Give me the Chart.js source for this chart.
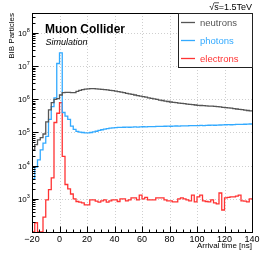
<!DOCTYPE html>
<html>
<head>
<meta charset="utf-8">
<script src="https://cdn.jsdelivr.net/npm/chart.js@4.4.1/dist/chart.umd.min.js"></script>
<style>
  html, body { margin: 0; padding: 0; background: #fff; }
</style>
</head>
<body>
<canvas id="bib" width="266" height="258"></canvas>
<script>
// bin edges in ns (2 ns bins), 81 edges -> 80 bins
const binEdges = [-20, -18, -16, -14, -12, -10, -8, -6, -4, -2,
  0, 2, 4, 6, 8, 10, 12, 14, 16, 18,
  20, 22, 24, 26, 28, 30, 32, 34, 36, 38,
  40, 42, 44, 46, 48, 50, 52, 54, 56, 58,
  60, 62, 64, 66, 68, 70, 72, 74, 76, 78,
  80, 82, 84, 86, 88, 90, 92, 94, 96, 98,
  100, 102, 104, 106, 108, 110, 112, 114, 116, 118,
  120, 122, 124, 126, 128, 130, 132, 134, 136, 138, 140];

const neutrons = [3.0e4, 4.3e4, 6.0e4, 7.0e4, 9.0e4, 2.1e5, 4.8e5, 8.0e5, 1.0e6, 1.05e6,
  1.35e6, 1.6e6, 1.62e6, 1.62e6, 1.58e6, 1.6e6, 1.74e6, 1.86e6, 1.95e6, 2.02e6,
  2.06e6, 2.09e6, 2.09e6, 2.07e6, 2.04e6, 2.0e6, 1.97e6, 1.92e6, 1.86e6, 1.82e6,
  1.77e6, 1.70e6, 1.65e6, 1.58e6, 1.51e6, 1.46e6, 1.40e6, 1.35e6, 1.30e6, 1.25e6,
  1.20e6, 1.16e6, 1.11e6, 1.07e6, 1.03e6, 9.9e5, 9.5e5, 9.2e5, 8.8e5, 8.6e5,
  8.3e5, 8.1e5, 7.9e5, 7.7e5, 7.55e5, 7.4e5, 7.2e5, 7.05e5, 6.9e5, 6.75e5,
  6.6e5, 6.5e5, 6.45e5, 6.35e5, 6.25e5, 6.2e5, 6.1e5, 6.0e5, 5.9e5, 5.75e5,
  5.6e5, 5.5e5, 5.4e5, 5.25e5, 5.1e5, 5.0e5, 4.9e5, 4.75e5, 4.6e5, 4.5e5];

const photons = [4.0e3, 9.0e3, 1.5e4, 3.0e4, 4.8e4, 7.6e4, 2.5e5, 6.0e5, 1.1e6, 1.2e7,
  2.5e7, 4.0e5, 3.1e5, 2.5e5, 1.55e5, 1.24e5, 1.08e5, 1.03e5, 1.0e5, 9.8e4,
  9.8e4, 1.0e5, 1.04e5, 1.09e5, 1.15e5, 1.21e5, 1.26e5, 1.31e5, 1.35e5, 1.38e5,
  1.40e5, 1.42e5, 1.43e5, 1.44e5, 1.45e5, 1.44e5, 1.46e5, 1.47e5, 1.46e5, 1.48e5,
  1.49e5, 1.48e5, 1.50e5, 1.51e5, 1.50e5, 1.52e5, 1.53e5, 1.52e5, 1.54e5, 1.55e5,
  1.54e5, 1.56e5, 1.57e5, 1.56e5, 1.58e5, 1.59e5, 1.58e5, 1.60e5, 1.61e5, 1.60e5,
  1.62e5, 1.63e5, 1.62e5, 1.64e5, 1.65e5, 1.66e5, 1.65e5, 1.67e5, 1.68e5, 1.70e5,
  1.71e5, 1.72e5, 1.71e5, 1.73e5, 1.75e5, 1.76e5, 1.75e5, 1.77e5, 1.78e5, 1.80e5];

const electrons = [0, 190, 0, 0, 280, 930, 1900, 4300, 2.0e5, 3.8e5,
  8.0e5, 1.9e4, 2700, 2000, 1400, 1000, 830, 800, 750, 660,
  660, 930, 930, 850, 800, 870, 930, 800, 870, 930,
  930, 830, 1000, 1000, 870, 930, 1070, 1070, 930, 1300,
  1000, 1100, 930, 930, 930, 1070, 1070, 1070, 930, 870,
  870, 810, 810, 1000, 1070, 1000, 930, 870, 1300, 810,
  1150, 1300, 870, 830, 810, 930, 750, 700, 1500, 460,
  1070, 1100, 1150, 1150, 1200, 1300, 870, 850, 810, 1000];

const seriesNames = ['neutrons', 'photons', 'electrons'];
const seriesColors = ['#555555', '#33aaff', '#ff3333'];

const xTicks = [-20, 0, 20, 40, 60, 80, 100, 120, 140];
const xTickLabels = ['\u221220', '0', '20', '40', '60', '80', '100', '120', '140'];
const yDecades = [3, 4, 5, 6, 7, 8];

const xMin = -20, xMax = 140;
const yMin = 100, yMax = 4e8;

const FONT = '"Liberation Sans", Arial, Helvetica, sans-serif';

// histogram as step line: each bin value starts at its lower edge, last value repeated at the upper edge
function histPoints(vals) {
  const pts = vals.map((v, i) => ({ x: binEdges[i], y: v > 0 ? v : yMin }));
  pts.push({ x: binEdges[vals.length], y: pts[pts.length - 1].y });
  return pts;
}

const rootStyle = {
  id: 'rootStyle',
  beforeDatasetsDraw(chart) {
    const { ctx, chartArea: a, scales: { x, y } } = chart;
    ctx.save();
    ctx.strokeStyle = '#cfcfcf';
    ctx.lineWidth = 1;
    ctx.setLineDash([1, 2]);
    xTicks.forEach((t) => {
      if (t <= xMin || t >= xMax) return;
      const px = Math.round(x.getPixelForValue(t)) + 0.5;
      ctx.beginPath(); ctx.moveTo(px, a.top); ctx.lineTo(px, a.bottom); ctx.stroke();
    });
    yDecades.forEach((d) => {
      const py = Math.round(y.getPixelForValue(Math.pow(10, d))) + 0.5;
      ctx.beginPath(); ctx.moveTo(a.left, py); ctx.lineTo(a.right, py); ctx.stroke();
    });
    ctx.restore();
  },
  afterDatasetsDraw(chart) {
    const { ctx, chartArea: a, scales: { x, y } } = chart;
    ctx.save();
    ctx.setLineDash([]);
    ctx.strokeStyle = '#000';
    ctx.lineWidth = 1;

    // frame
    const L = a.left + 0.5, R = a.right + 0.5, T = a.top + 0.5, B = a.bottom + 0.5;
    ctx.strokeRect(L, T, R - L, B - T);

    // x ticks (inside, ROOT style)
    ctx.beginPath();
    for (let t = xMin; t <= xMax; t += 5) {
      const px = Math.round(x.getPixelForValue(t)) + 0.5;
      const len = t % 20 === 0 ? 6 : 3;
      ctx.moveTo(px, B); ctx.lineTo(px, B - len);
    }
    // y ticks
    for (let d = 2; d <= 8; d++) {
      for (let k = 1; k <= 9; k++) {
        const v = k * Math.pow(10, d);
        if (v < yMin || v > yMax) continue;
        const py = Math.round(y.getPixelForValue(v)) + 0.5;
        const len = k === 1 ? 6 : 3;
        ctx.moveTo(L, py); ctx.lineTo(L + len, py);
      }
    }
    ctx.stroke();

    // x tick labels
    ctx.fillStyle = '#000';
    ctx.font = '9px ' + FONT;
    ctx.textAlign = 'center';
    ctx.textBaseline = 'alphabetic';
    xTicks.forEach((t, i) => {
      ctx.fillText(xTickLabels[i], x.getPixelForValue(t), 241.5);
    });

    // y tick labels 10^n
    yDecades.forEach((d) => {
      const py = y.getPixelForValue(Math.pow(10, d));
      ctx.font = '8px ' + FONT;
      ctx.textAlign = 'right';
      ctx.textBaseline = 'middle';
      ctx.fillText('10', 26.8, py + 0.8);
      ctx.font = '5.5px ' + FONT;
      ctx.textAlign = 'left';
      ctx.textBaseline = 'alphabetic';
      ctx.fillText(String(d), 26.8, py - 0.8);
    });

    // axis titles
    ctx.font = '8px ' + FONT;
    ctx.textAlign = 'right';
    ctx.textBaseline = 'alphabetic';
    ctx.fillText('Arrival time [ns]', a.right, 247.5);
    ctx.save();
    ctx.translate(13.8, a.top);
    ctx.rotate(-Math.PI / 2);
    ctx.fillText('BIB Particles', 0, 0);
    ctx.restore();

    // labels
    ctx.textAlign = 'left';
    ctx.font = 'bold 12px ' + FONT;
    ctx.fillText('Muon Collider', 45, 33);
    ctx.font = 'italic 9px ' + FONT;
    ctx.fillText('Simulation', 45.5, 44.5);

    // sqrt(s) label
    ctx.font = '9px ' + FONT;
    ctx.textAlign = 'right';
    const rest = 's=1.5TeV';
    const restW = ctx.measureText(rest).width;
    ctx.fillText(rest, a.right, 9.5);
    const sW = ctx.measureText('s').width;
    const sx = a.right - restW;
    ctx.fillText('\u221A', sx, 9.5);
    ctx.beginPath();
    ctx.lineWidth = 0.7;
    ctx.moveTo(sx - 0.3, 2.8); ctx.lineTo(sx + sW + 0.3, 2.8);
    ctx.stroke();

    // legend
    ctx.lineWidth = 1;
    const lx0 = 178.5, ly0 = T, lx1 = R, ly1 = 67.5;
    ctx.fillStyle = '#fff';
    ctx.fillRect(lx0, ly0, lx1 - lx0, ly1 - ly0);
    ctx.strokeStyle = '#222';
    ctx.strokeRect(lx0, ly0, lx1 - lx0, ly1 - ly0);
    const rows = [22.5, 40.5, 58.5];
    ctx.font = '9.5px ' + FONT;
    ctx.textAlign = 'left';
    ctx.textBaseline = 'middle';
    seriesNames.forEach((name, i) => {
      ctx.strokeStyle = seriesColors[i];
      ctx.lineWidth = 1.3;
      ctx.beginPath(); ctx.moveTo(181, rows[i]); ctx.lineTo(195, rows[i]); ctx.stroke();
      ctx.fillStyle = seriesColors[i];
      ctx.fillText(name, 200, rows[i] + 0.5);
    });
    ctx.restore();
  }
};

const series = [neutrons, photons, electrons];

new Chart(document.getElementById('bib'), {
  type: 'line',
  data: {
    datasets: series.map((vals, i) => ({
      label: seriesNames[i],
      data: histPoints(vals),
      borderColor: seriesColors[i],
      borderWidth: 1.3,
      pointRadius: 0,
      stepped: true,
      fill: false,
      tension: 0
    }))
  },
  options: {
    responsive: false,
    animation: false,
    events: [],
    layout: { padding: { left: 32, right: 14, top: 13, bottom: 26 } },
    plugins: { legend: { display: false }, tooltip: { enabled: false }, title: { display: false } },
    scales: {
      x: { type: 'linear', min: xMin, max: xMax, display: false },
      y: { type: 'logarithmic', min: yMin, max: yMax, display: false }
    }
  },
  plugins: [rootStyle]
});
</script>
</body>
</html>
